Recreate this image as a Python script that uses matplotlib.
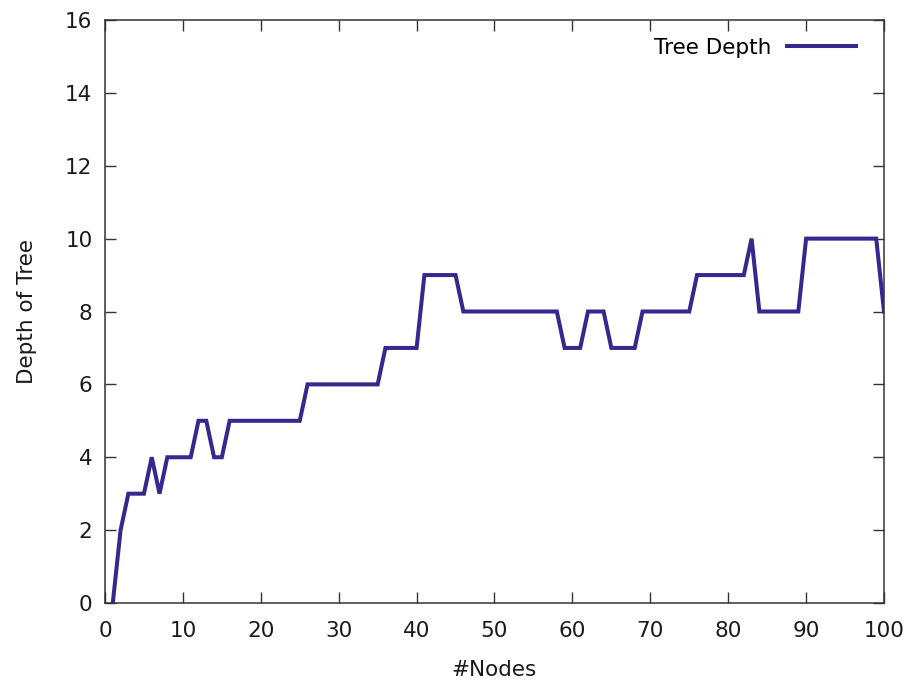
import matplotlib
matplotlib.use("Agg")
import matplotlib.pyplot as plt

nodes = list(range(1, 101))
depth = [0, 2, 3, 3, 3, 4, 3, 4, 4, 4,
         4, 5, 5, 4, 4, 5, 5, 5, 5, 5,
         5, 5, 5, 5, 5, 6, 6, 6, 6, 6,
         6, 6, 6, 6, 6, 7, 7, 7, 7, 7,
         9, 9, 9, 9, 9, 8, 8, 8, 8, 8,
         8, 8, 8, 8, 8, 8, 8, 8, 7, 7,
         7, 8, 8, 8, 7, 7, 7, 7, 8, 8,
         8, 8, 8, 8, 8, 9, 9, 9, 9, 9,
         9, 9, 10, 8, 8, 8, 8, 8, 8, 10,
         10, 10, 10, 10, 10, 10, 10, 10, 10, 8]
xticks = [0, 10, 20, 30, 40, 50, 60, 70, 80, 90, 100]
yticks = [0, 2, 4, 6, 8, 10, 12, 14, 16]

plt.rcParams['font.family'] = ['DejaVu Sans']
fig = plt.figure(figsize=(9.12, 6.81), dpi=100)
ax = fig.add_axes([105/912, 1-603/681, (884-105)/912, (603-20)/681])

line_color = '#35288f'
ax.plot(nodes, depth, color=line_color, lw=2.9, solid_joinstyle='miter')

ax.set_xlim(0, 100)
ax.set_ylim(0, 16)
ax.set_xticks(xticks)
ax.set_yticks(yticks)
ax.tick_params(direction='in', length=8, width=1.0, colors='#333333',
               top=True, right=True, labelsize=15.5, labelcolor='#1a1a1a')
ax.tick_params(axis='x', pad=13)
ax.tick_params(axis='y', pad=9)
for s in ax.spines.values():
    s.set_color('#333333')
    s.set_linewidth(1.1)

ax.set_xlabel('#Nodes', fontsize=15.5, color='#1a1a1a', labelpad=14)
ax.set_ylabel('Depth of Tree', fontsize=15.5, color='#1a1a1a', labelpad=20)

leg = ax.legend(['Tree Depth'], loc='upper right', frameon=False, fontsize=15.5,
                markerfirst=False, handlelength=3.2, handletextpad=0.7,
                bbox_to_anchor=(0.983, 0.995), borderaxespad=0.3)

fig.savefig('out.png', dpi=100)
